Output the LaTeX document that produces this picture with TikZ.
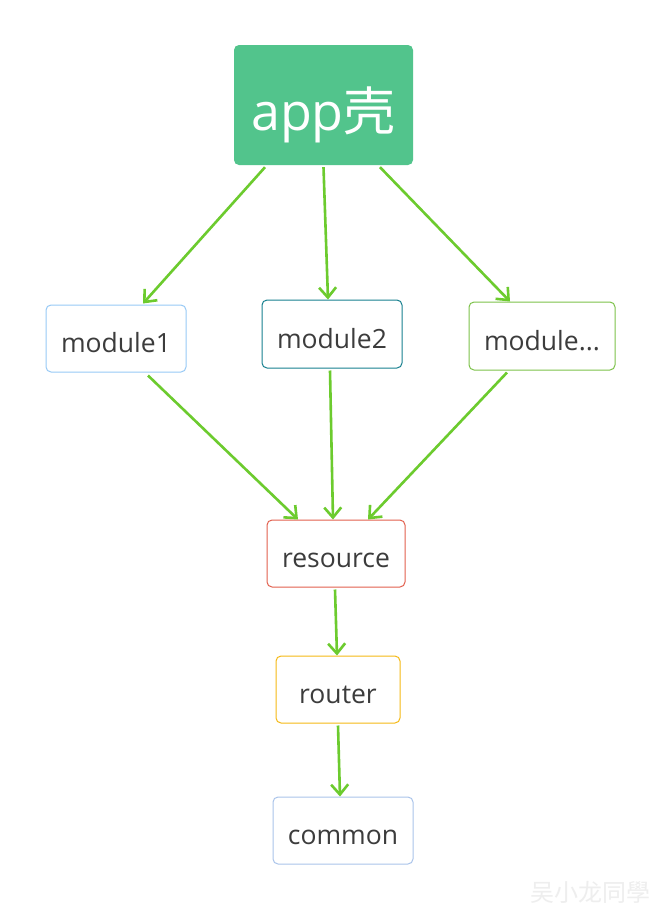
\documentclass[tikz,border=0pt]{standalone}
\usepackage{fontspec}
\setmainfont{Open Sans}
\newfontfamily\cjk{Noto Sans CJK SC}
\usetikzlibrary{arrows.meta,calc}
\definecolor{appgreen}{HTML}{52C48C}
\definecolor{arrowgreen}{HTML}{6CCB2E}
\definecolor{txtgray}{HTML}{3C3C3C}
\definecolor{bdblue}{HTML}{98CAF6}
\definecolor{bdteal}{HTML}{17808F}
\definecolor{bdgreen}{HTML}{7DC24A}
\definecolor{bdred}{HTML}{E2604E}
\definecolor{bdyellow}{HTML}{F5B915}
\definecolor{bdgray}{HTML}{AAC4EA}
\definecolor{wmgray}{HTML}{EEEEEE}
\begin{document}
\begin{tikzpicture}[x=1pt,y=-1pt,
  modbox/.style={draw, line width=1pt, rounded corners=5pt, fill=white,
    text=txtgray, font=\fontsize{26.5}{30}\selectfont, inner sep=0pt,
    text height=28pt, text depth=0pt, minimum height=67pt},
  conn/.style={draw=arrowgreen, line width=2.6pt,
    -{Straight Barb[length=10pt,width=17pt,line width=2.6pt]}}]
\useasboundingbox (0,0) rectangle (664,916);
\fill[white] (0,0) rectangle (664,916);

\node[fill=appgreen, rounded corners=5pt, minimum width=179pt, minimum height=120pt,
  text=white, font=\fontsize{52}{58}\selectfont, inner sep=0pt,
  text height=50pt, text depth=0pt] (app) at (323.5,105) {app{\cjk 壳}};

\node[modbox, draw=bdblue, minimum width=140pt] (m1) at (116,338.5) {module1};
\node[modbox, draw=bdteal, minimum width=140pt, minimum height=68pt] (m2) at (332,334) {module2};
\node[modbox, draw=bdgreen, minimum width=146pt, minimum height=68pt] (m3) at (542,336) {module...};
\node[modbox, draw=bdred, minimum width=138pt] (res) at (336,553.5) {resource};
\node[modbox, draw=bdyellow, minimum width=124pt] (rt) at (338,689.5) {router};
\node[modbox, draw=bdgray, minimum width=140pt] (cm) at (343,830.5) {common};

\node[text=wmgray, font=\cjk\fontsize{24}{28}\selectfont, anchor=center] (wm) at (590,892) {吴小龙同學};

\draw[conn] ($(app.south)+(-58.5,2)$) -- ($(m1.north)+(27,-1)$);
\draw[conn] ($(app.south)+(0,2)$) -- ($(m2.north)+(-4,0)$);
\draw[conn] ($(app.south)+(56.5,2)$) -- ($(m3.north)+(-32,0)$);
\draw[conn] ($(m1.south)+(32,3)$) -- ($(res.north)+(-38,0)$);
\draw[conn] ($(m2.south)+(-2,2)$) -- ($(res.north)+(-3,0)$);
\draw[conn] ($(m3.south)+(-35,2)$) -- ($(res.north)+(32,0)$);
\draw[conn] ($(res.south)+(-1,2)$) -- ($(rt.north)+(-1,0)$);
\draw[conn] ($(rt.south)+(0,2)$) -- ($(cm.north)+(-3,0)$);
\end{tikzpicture}
\end{document}
